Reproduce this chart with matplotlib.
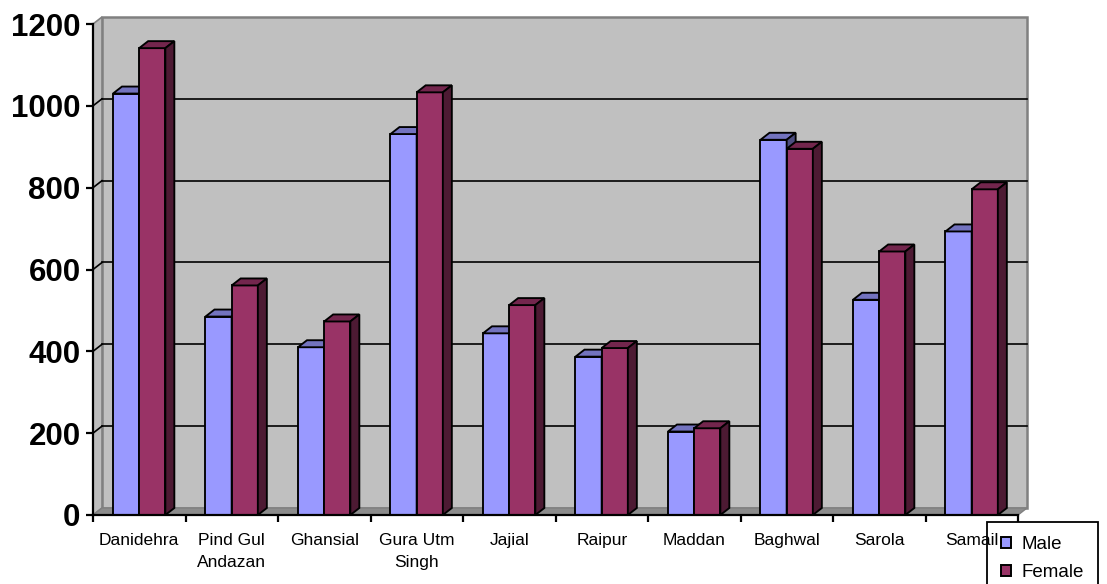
import numpy as np
import matplotlib
matplotlib.use("Agg")
import matplotlib.pyplot as plt
from matplotlib.patches import Polygon, Patch

# -----------------------------------------------------------------
# Datos
# -----------------------------------------------------------------
villages = ["Danidehra", "Pind Gul\nAndazan", "Ghansial", "Gura Utm\nSingh", "Jajial",
            "Raipur", "Maddan", "Baghwal", "Sarola", "Samail"]
male = [1030, 485, 410, 931, 444, 387, 204, 917, 526, 693]
female = [1141, 561, 473, 1033, 513, 408, 212, 895, 644, 796]
y_ticks = [0, 200, 400, 600, 800, 1000, 1200]

male_colors = ("#9999FF", "#7373BF", "#4D4D80")     # frente, tapa, lado
female_colors = ("#993366", "#73264D", "#4D1A33")

plt.rcParams["font.family"] = ["Liberation Sans", "DejaVu Sans"]

fig = plt.figure(figsize=(11.07, 5.84), dpi=100)
W, H = 1107, 584
ax = fig.add_axes([93 / W, (H - 515) / H, 925 / W, 491 / H])
ax.set_xlim(0, 10)
ax.set_ylim(0, 1200)
ax.patch.set_visible(False)

# profundidad 3D en unidades de datos
dx = 9 / 92.5
dy = 7 / 0.409
ymax = 1200

# -----------------------------------------------------------------
# Paredes y piso
# -----------------------------------------------------------------
back = Polygon([(dx, dy), (10 + dx, dy), (10 + dx, ymax + dy), (dx, ymax + dy)],
               closed=True, facecolor="#C0C0C0", edgecolor="#808080", lw=1.8,
               zorder=0.5, clip_on=False)
side = Polygon([(0, 0), (dx, dy), (dx, ymax + dy), (0, ymax)], closed=True,
               facecolor="#BDBDBD", edgecolor="#808080", lw=1.2, zorder=0.6, clip_on=False)
floor = Polygon([(0, 0), (10, 0), (10 + dx, dy), (dx, dy)], closed=True,
                facecolor="#8C8C8C", edgecolor="#808080", lw=1.0, zorder=0.7, clip_on=False)
for p in (back, side, floor):
    ax.add_patch(p)

for v in y_ticks[1:-1]:
    ax.plot([dx, 10 + dx], [v + dy, v + dy], color="black", lw=1.2, zorder=0.8, clip_on=False)
    ax.plot([0, dx], [v, v + dy], color="black", lw=1.2, zorder=0.8, clip_on=False)

# -----------------------------------------------------------------
# Barras
# -----------------------------------------------------------------
x = np.arange(len(villages))
bw = 0.283
x_male = x + 0.216
x_female = x_male + bw
edge_w = 1.35


def add_box_faces(x0, h, colors, z):
    top = Polygon([(x0, h), (x0 + bw, h), (x0 + bw + dx, h + dy), (x0 + dx, h + dy)],
                  closed=True, facecolor=colors[1], edgecolor="black", lw=edge_w,
                  zorder=z, clip_on=False)
    right = Polygon([(x0 + bw, 0), (x0 + bw + dx, dy), (x0 + bw + dx, h + dy), (x0 + bw, h)],
                    closed=True, facecolor=colors[2], edgecolor="black", lw=edge_w,
                    zorder=z, clip_on=False)
    ax.add_patch(top)
    ax.add_patch(right)


ax.bar(x_male, male, width=bw, align="edge", color=male_colors[0],
       edgecolor="black", lw=edge_w, zorder=3, clip_on=False)
for xm, h in zip(x_male, male):
    add_box_faces(xm, h, male_colors, 3)

ax.bar(x_female, female, width=bw, align="edge", color=female_colors[0],
       edgecolor="black", lw=edge_w, zorder=4, clip_on=False)
for xf, h in zip(x_female, female):
    add_box_faces(xf, h, female_colors, 4)

# -----------------------------------------------------------------
# Ejes
# -----------------------------------------------------------------
for s in ("top", "right"):
    ax.spines[s].set_visible(False)
ax.spines["left"].set_linewidth(1.6)
ax.spines["bottom"].set_linewidth(1.6)
ax.spines["left"].set_zorder(5)
ax.spines["bottom"].set_zorder(5)

ax.set_yticks(y_ticks)
ax.set_yticklabels([str(t) for t in y_ticks], fontsize=22.5, fontweight="bold")
ax.tick_params(axis="y", length=5, width=1.6, pad=4)

ax.set_xticks(np.arange(0, 11))
ax.set_xticklabels([])
ax.tick_params(axis="x", which="major", length=5, width=1.6, direction="out")
ax.set_xticks(x + 0.5, minor=True)
ax.set_xticklabels(villages, minor=True, fontsize=12.5, linespacing=1.6, va="top")
ax.tick_params(axis="x", which="minor", length=0, pad=13)

# -----------------------------------------------------------------
# Leyenda
# -----------------------------------------------------------------
handles = [Patch(facecolor=male_colors[0], edgecolor="black", lw=1.4, label="Male"),
           Patch(facecolor=female_colors[0], edgecolor="black", lw=1.4, label="Female")]
leg = fig.legend(handles=handles, loc="upper left", bbox_to_anchor=(987 / W, 1 - 522 / H),
                 fontsize=13.5, frameon=True, fancybox=False, edgecolor="black",
                 framealpha=1, borderpad=0.75, labelspacing=0.6, handlelength=0.55,
                 handleheight=0.55, handletextpad=0.55, borderaxespad=0)
leg.get_frame().set_linewidth(1.3)
leg.set_zorder(-1)

fig.savefig("out.png", dpi=100)
